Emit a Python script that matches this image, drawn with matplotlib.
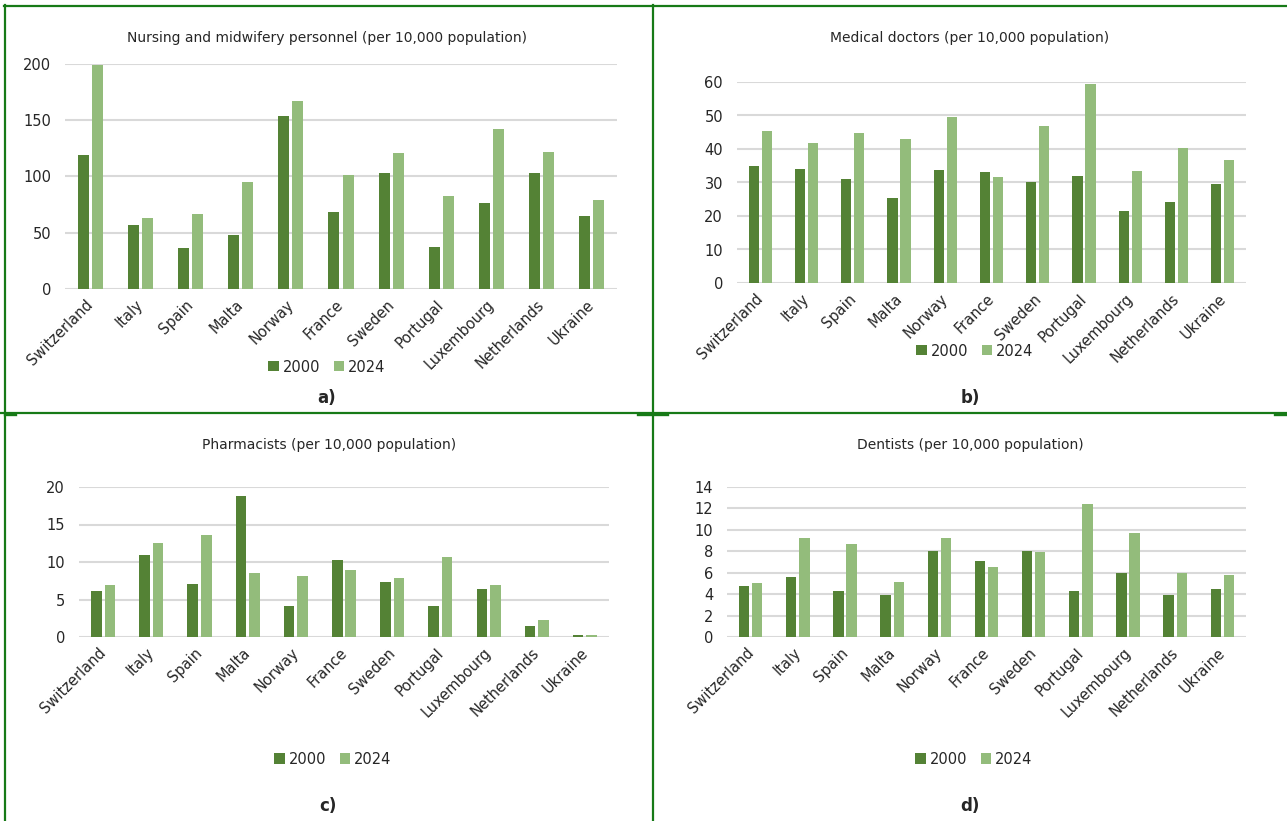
import matplotlib
matplotlib.use("Agg")
import matplotlib.pyplot as plt
from matplotlib.lines import Line2D
from matplotlib.patches import Patch
import numpy as np

plt.rcParams['font.family'] = ['DejaVu Sans']

countries = ["Switzerland", "Italy", "Spain", "Malta", "Norway", "France",
             "Sweden", "Portugal", "Luxembourg", "Netherlands", "Ukraine"]
years = ["2000", "2024"]

nurses_2000 = [119, 57, 36, 48, 153.5, 68, 103, 37, 76, 103, 65]
nurses_2024 = [199, 63, 66.5, 95, 167, 101, 120.5, 83, 142, 122, 79]

doctors_2000 = [35.0, 34.0, 31.0, 25.5, 33.7, 33.1, 30.2, 32.0, 21.4, 24.2, 29.7]
doctors_2024 = [45.5, 41.7, 44.7, 43.0, 49.6, 31.6, 47.0, 59.4, 33.5, 40.4, 36.7]

pharm_2000 = [6.2, 11.0, 7.1, 18.8, 4.2, 10.3, 7.3, 4.1, 6.4, 1.5, 0.27]
pharm_2024 = [7.0, 12.5, 13.6, 8.5, 8.1, 9.0, 7.9, 10.7, 7.0, 2.3, 0.3]

dent_2000 = [4.8, 5.6, 4.3, 3.9, 8.0, 7.1, 8.0, 4.3, 5.95, 3.9, 4.5]
dent_2024 = [5.0, 9.2, 8.7, 5.15, 9.2, 6.5, 7.9, 12.4, 9.7, 5.95, 5.8]

titles = ["Nursing and midwifery personnel (per 10,000 population)",
          "Medical doctors (per 10,000 population)",
          "Pharmacists (per 10,000 population)",
          "Dentists (per 10,000 population)"]
panel_labels = ["a)", "b)", "c)", "d)"]

DARK = "#548235"
LIGHT = "#93BC7B"
GRID = "#D9D9D9"
BORDER = "#177A17"
TXT = "#262626"

W, H = 1287, 821
fig = plt.figure(figsize=(W / 100, H / 100), dpi=100)


def rect(l, t, r, b):
    return [l / W, 1 - b / H, (r - l) / W, (b - t) / H]


def fx(x):
    return x / W


def fy(y):
    return 1 - y / H


panels = [
    dict(box=(65, 64, 617, 289), d0=nurses_2000, d1=nurses_2024, ymax=200, step=50,
         tx=327, ty=38, lx=327, ly=367, px=327, py=398),
    dict(box=(737, 82, 1246, 283), d0=doctors_2000, d1=doctors_2024, ymax=60, step=10,
         tx=970, ty=38, lx=975, ly=351, px=970, py=398),
    dict(box=(79, 487, 609, 637), d0=pharm_2000, d1=pharm_2024, ymax=20, step=5,
         tx=329, ty=445, lx=333, ly=759, px=328, py=806),
    dict(box=(727, 487, 1246, 637), d0=dent_2000, d1=dent_2024, ymax=14, step=2,
         tx=970, ty=445, lx=974, ly=759, px=970, py=806),
]

x = np.arange(len(countries))
bw = 0.22
off = 0.14

for i, p in enumerate(panels):
    ax = fig.add_axes(rect(*p["box"]))
    ax.bar(x - off, p["d0"], width=bw, color=DARK, zorder=3)
    ax.bar(x + off, p["d1"], width=bw, color=LIGHT, zorder=3)
    ax.set_xlim(-0.5, len(countries) - 0.5)
    ax.set_ylim(0, p["ymax"])
    ax.set_yticks(np.arange(0, p["ymax"] + 0.001, p["step"]))
    ax.set_yticklabels([f"{int(v)}" for v in np.arange(0, p["ymax"] + 0.001, p["step"])])
    ax.yaxis.grid(True, color=GRID, linewidth=1.5, zorder=0)
    ax.set_axisbelow(True)
    for s in ax.spines.values():
        s.set_visible(False)
    ax.tick_params(axis="both", length=0, labelsize=10.5, colors=TXT)
    ax.tick_params(axis="y", pad=10)
    ax.set_xticks(x - 0.1)
    ax.set_xticklabels(countries, rotation=45, ha="right", rotation_mode="anchor")
    ax.tick_params(axis="x", pad=6)
    fig.text(fx(p["tx"]), fy(p["ty"]), titles[i], ha="center", va="center",
             fontsize=10, color=TXT)
    handles = [Patch(facecolor=DARK, edgecolor="none"), Patch(facecolor=LIGHT, edgecolor="none")]
    fig.legend(handles, years, loc="center", bbox_to_anchor=(fx(p["lx"]), fy(p["ly"])),
               ncol=2, frameon=False, fontsize=10.5, handlelength=0.7, handleheight=0.7,
               handletextpad=0.3, columnspacing=0.9, labelcolor=TXT)
    fig.text(fx(p["px"]), fy(p["py"]), panel_labels[i], ha="center", va="center",
             fontsize=12, fontweight="bold", color=TXT)

# panel borders
lw = 1.6
fig.add_artist(Line2D([fx(4), fx(W)], [fy(6), fy(6)], color=BORDER, lw=lw))
fig.add_artist(Line2D([fx(5), fx(5)], [fy(5), fy(H)], color=BORDER, lw=lw))
fig.add_artist(Line2D([fx(653), fx(653)], [fy(5), fy(H)], color=BORDER, lw=lw))
fig.add_artist(Line2D([fx(0), fx(W)], [fy(413), fy(413)], color=BORDER, lw=lw))
fig.add_artist(Line2D([fx(638), fx(667)], [fy(414), fy(414)], color=BORDER, lw=2.4))
fig.add_artist(Line2D([fx(1275), fx(W)], [fy(414), fy(414)], color=BORDER, lw=2.4))
fig.add_artist(Line2D([fx(5), fx(15)], [fy(414), fy(414)], color=BORDER, lw=2.4))

fig.savefig("out.png", dpi=100)
